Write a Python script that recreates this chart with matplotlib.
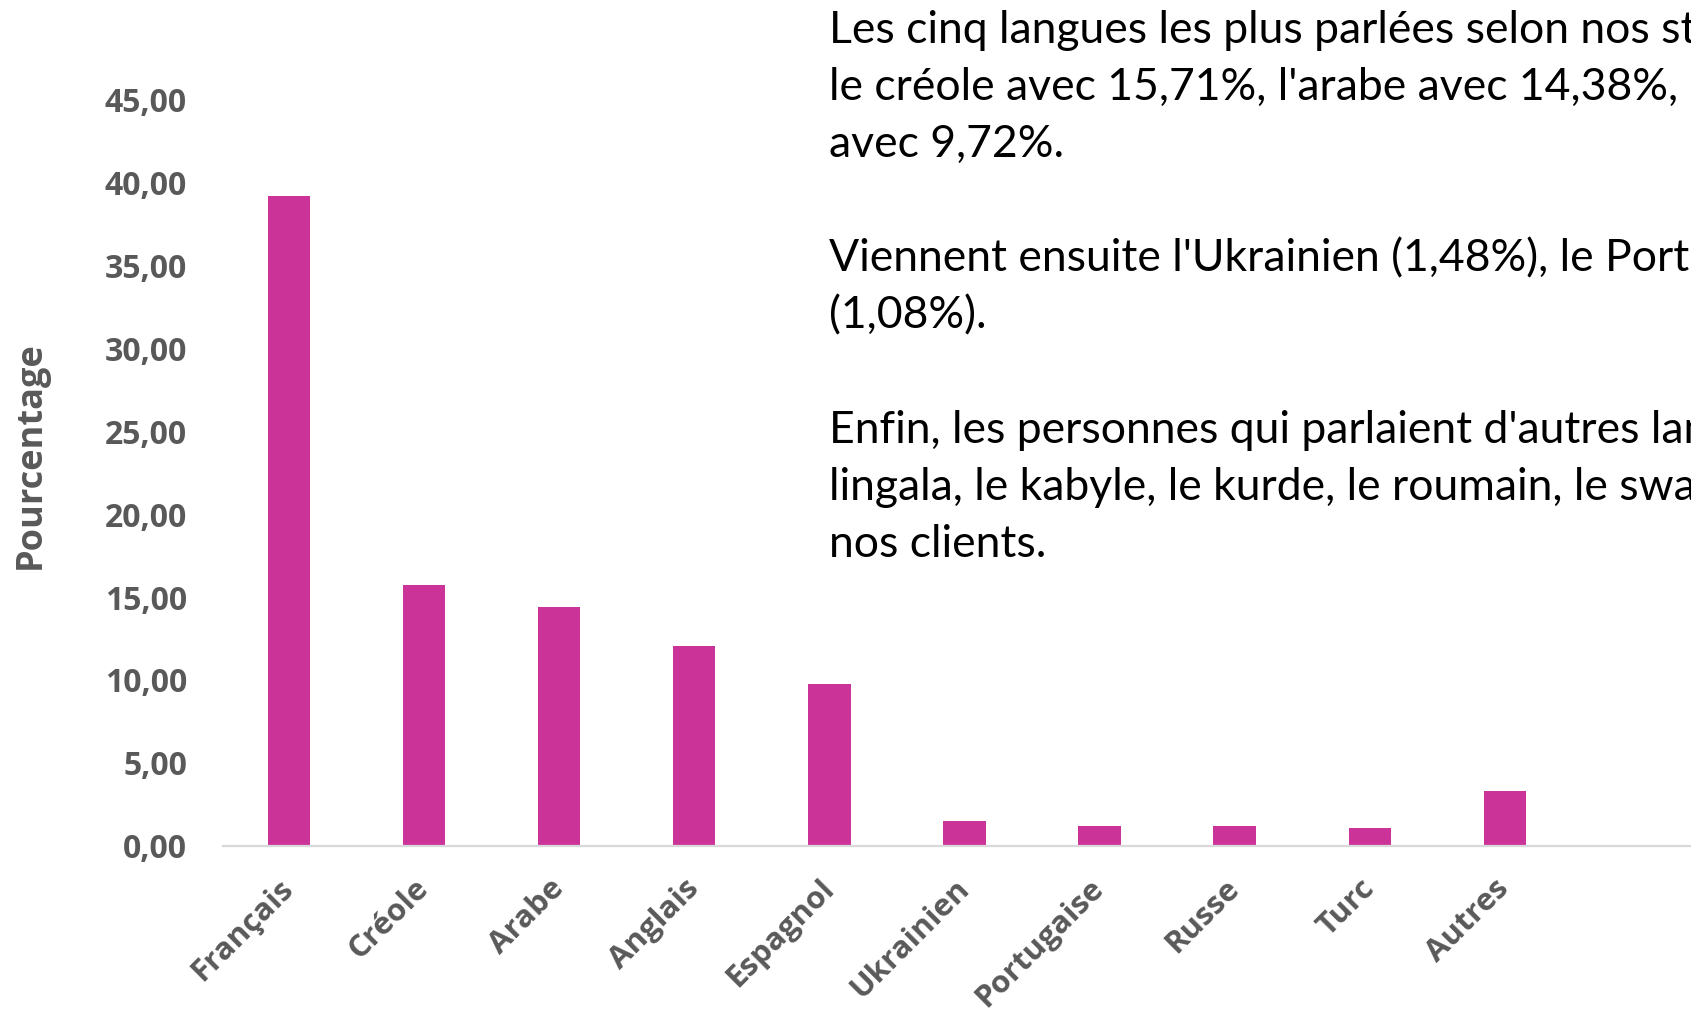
import matplotlib
matplotlib.use("Agg")
import matplotlib.pyplot as plt
from matplotlib.ticker import FuncFormatter

langues = ["Français", "Créole", "Arabe", "Anglais", "Espagnol",
           "Ukrainien", "Portugaise", "Russe", "Turc", "Autres"]
pourcentages = [39.23, 15.71, 14.38, 12.03, 9.72, 1.48, 1.20, 1.18, 1.08, 3.30]
yticks = [0, 5, 10, 15, 20, 25, 30, 35, 40, 45]

commentaire = [
    "Les cinq langues les plus parlées selon nos statistiques sont le français avec 39,23%,",
    "le créole avec 15,71%, l'arabe avec 14,38%, l'anglais avec 12,03% et l'espagnol",
    "avec 9,72%.",
    "",
    "Viennent ensuite l'Ukrainien (1,48%), le Portugais (1,20%), le Russe (1,18%) et le Turc",
    "(1,08%).",
    "",
    "Enfin, les personnes qui parlaient d'autres langues (3,30%) comme le",
    "lingala, le kabyle, le kurde, le roumain, le swahili, etc. représentent une petite part de",
    "nos clients.",
]

W, H = 1691, 1009
gris = "#595959"
fig = plt.figure(figsize=(W / 100, H / 100), dpi=100)
ax = fig.add_axes([223 / W, (H - 845.5) / H, 1 - 223 / W, 745.5 / H])

x = range(len(langues))
ax.bar(x, pourcentages, width=0.314, color="#cc3399", zorder=2)

ax.set_xlim(-0.4886, 10.378)
ax.set_ylim(0, 45)
ax.set_yticks(yticks)
ax.yaxis.set_major_formatter(FuncFormatter(lambda v, p: "{:.2f}".format(v).replace(".", ",")))
ax.set_xticks(list(x))
ax.set_xticklabels(langues, rotation=45, ha="right", va="center", rotation_mode="anchor")

for s in ["top", "right", "left"]:
    ax.spines[s].set_visible(False)
ax.spines["bottom"].set_color("#d9d9d9")
ax.spines["bottom"].set_linewidth(1.6)
ax.tick_params(axis="both", length=0, colors=gris)
ax.tick_params(axis="y", pad=26)
ax.tick_params(axis="x", pad=28)
for lab in ax.get_yticklabels():
    lab.set_fontfamily("Open Sans")
    lab.set_fontweight("bold")
    lab.set_fontsize(23)
for lab in ax.get_xticklabels():
    lab.set_fontfamily("Open Sans")
    lab.set_fontweight("bold")
    lab.set_fontsize(22.5)

fig.text(31 / W, 1 - 455.5 / H, "Pourcentage", rotation=90, ha="center", va="center",
         fontsize=26, fontweight="bold", color=gris, family="Open Sans")

for i, ligne in enumerate(commentaire):
    if ligne:
        fig.text(829 / W, 1 - (43 + 57.1 * i) / H, ligne, ha="left", va="baseline",
                 fontsize=32, color="black", family="Lato")

fig.savefig("out.png", dpi=100)
